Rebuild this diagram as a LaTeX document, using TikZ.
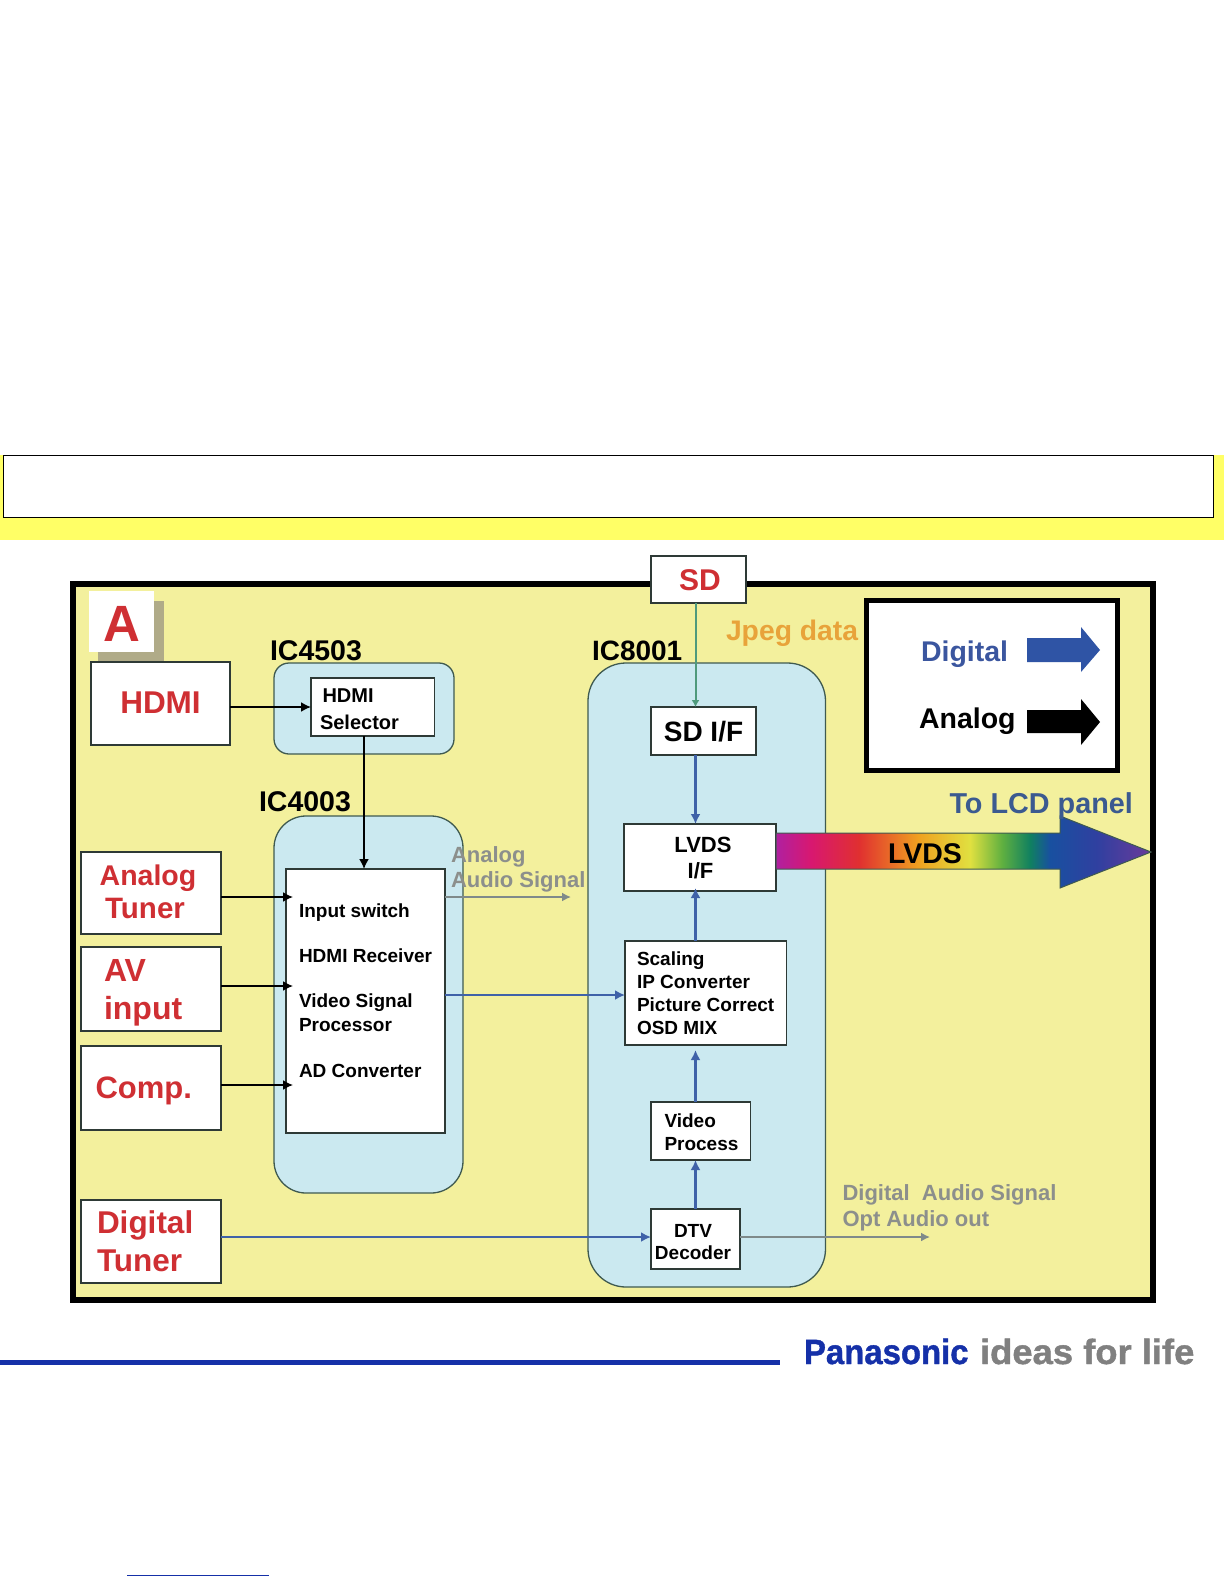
\documentclass[tikz,border=0pt]{standalone}
\usepackage{fontspec}
\setmainfont{Liberation Sans}
\newfontfamily\logofont[FakeBold=1.2]{Liberation Sans Bold}
\usetikzlibrary{arrows.meta}
\definecolor{panelfill}{HTML}{F3F09D}
\definecolor{bandfill}{HTML}{FFFF66}
\definecolor{chipfill}{HTML}{CBE9F0}
\definecolor{chipedge}{HTML}{3F5A50}
\definecolor{boxedge}{HTML}{2E3A36}
\definecolor{labelred}{HTML}{CF2F33}
\definecolor{digblue}{HTML}{3F62A8}
\definecolor{legblue}{HTML}{2F54A5}
\definecolor{txtblue}{HTML}{3B569F}
\definecolor{lcdblue}{HTML}{3B5A90}
\definecolor{audgrey}{HTML}{8C8F8C}
\definecolor{audline}{HTML}{7F8A8A}
\definecolor{sdgreen}{HTML}{4F9A7C}
\definecolor{jpegor}{HTML}{E8A33A}
\definecolor{shadowc}{HTML}{B0AB88}
\definecolor{panablue}{HTML}{1530A8}
\definecolor{lifegrey}{HTML}{808080}
\definecolor{rba}{HTML}{B020A0}
\definecolor{rbb}{HTML}{D81870}
\definecolor{rbc}{HTML}{E03030}
\definecolor{rbd}{HTML}{F0A020}
\definecolor{rbe}{HTML}{E0E040}
\definecolor{rbf}{HTML}{60B040}
\definecolor{rbg}{HTML}{108060}
\definecolor{rbh}{HTML}{1850A0}
\definecolor{rbi}{HTML}{3040A0}
\definecolor{rbj}{HTML}{6A3A9A}
\pgfdeclarehorizontalshading{lvdsrainbow}{100bp}{
  color(0bp)=(rba);
  color(25bp)=(rba);
  color(29.67bp)=(rbb);
  color(36.07bp)=(rbc);
  color(43.93bp)=(rbd);
  color(50.87bp)=(rbe);
  color(55.13bp)=(rbf);
  color(58.87bp)=(rbg);
  color(61.53bp)=(rbh);
  color(67.8bp)=(rbi);
  color(75bp)=(rbj);
  color(100bp)=(rbj)}
\newcommand{\bx}[6]{\node[#2,minimum width={#5-#3},minimum height={#6-#4}] (#1) at ({(#3+#5)/2},{(#4+#6)/2}) {};}
\tikzset{
  x=1pt,y=-1pt,
  fnt/.style n args={2}{font=\fontsize{#1}{#2}\selectfont\bfseries},
  lbl/.style={inner sep=0pt,outer sep=0pt,anchor=base west,align=left},
  clbl/.style={inner sep=0pt,outer sep=0pt,anchor=base,align=center},
  whitebox/.style={draw=boxedge,line width=1.1pt,fill=white,inner sep=0pt,outer sep=0pt},
  chip/.style={draw=chipedge,line width=1.3pt,fill=chipfill,inner sep=0pt,outer sep=0pt},
  analogline/.style={draw=black,line width=1.7pt,-{Latex[length=10pt,width=10pt]}},
  digline/.style={draw=digblue,line width=2.4pt,-{Latex[length=10pt,width=10pt]}},
  audioline/.style={draw=audline,line width=1.7pt,-{Latex[length=9pt,width=9pt]}},
  sdline/.style={draw=sdgreen,line width=2pt,-{Latex[length=7pt,width=8pt]}},
}
\begin{document}
\begin{tikzpicture}
\useasboundingbox (0,0) rectangle (1224,1584);
% top band
\fill[bandfill] (0,455) rectangle (1224,540);
\bx{titlebox}{draw=black,line width=0.9pt,fill=white,inner sep=0pt,outer sep=0pt}{3}{455}{1213}{517}
% panel
\bx{panel}{draw=black,line width=5.5pt,fill=panelfill,inner sep=0pt,outer sep=0pt}{73}{584}{1153}{1300}
% A tag
\fill[shadowc] (98,601) rectangle (164,662);
\bx{atag}{fill=white,inner sep=0pt,outer sep=0pt}{89}{591}{153.5}{652}
\node[clbl,fnt={51}{51},text=labelred] (atxt) at (121.5,641) {A};
% chips
\bx{ic4503}{chip,rounded corners=15pt}{274}{663}{454}{754}
\bx{ic4003}{chip,rounded corners=32pt}{274}{816}{463}{1193}
\bx{ic8001}{chip,rounded corners=38pt}{588}{663}{825.5}{1287}
% boxes
\bx{hdmi}{whitebox}{91}{662}{230}{745}
\bx{sel}{whitebox}{311}{678}{434.5}{736}
\bx{input}{whitebox}{286}{869}{445}{1133}
\bx{atuner}{whitebox}{81}{852}{221}{934}
\bx{av}{whitebox}{81}{947}{221}{1031}
\bx{comp}{whitebox}{81}{1046}{221}{1130}
\bx{dtuner}{whitebox}{81}{1200}{221}{1283}
\bx{sd}{whitebox}{651}{556}{746}{603}
\bx{sdif}{whitebox}{651}{707}{756}{755}
\bx{lvds}{whitebox}{624}{824}{776}{891}
\bx{scale}{whitebox}{625}{941}{786.5}{1045}
\bx{video}{whitebox}{651}{1102}{750.5}{1160}
\bx{dtv}{whitebox}{651}{1209}{740}{1269}
\bx{legend}{draw=black,line width=5pt,fill=white,inner sep=0pt,outer sep=0pt}{866.5}{600.5}{1117.5}{770.5}
% LVDS rainbow arrow
\shade[shading=lvdsrainbow,draw=chipedge,line width=1pt]
  (776,833) -- (1060,833) -- (1060,816) -- (1151,852) -- (1060,888) -- (1060,869) -- (776,869) -- cycle;
% legend arrows
\fill[legblue] (1027,638) -- (1081,638) -- (1081,627) -- (1100,650) -- (1081,672) -- (1081,662) -- (1027,662) -- cycle;
\fill[black] (1027,710) -- (1081,710) -- (1081,699) -- (1100,722) -- (1081,745) -- (1081,733) -- (1027,733) -- cycle;
% connector guide coordinates
\coordinate (xsel) at (364,0);
\coordinate (xmain) at (695.5,0);
\coordinate (inA) at (293,897);
\coordinate (inB) at (293,986);
\coordinate (inC) at (293,1085);
\coordinate (yvid) at (0,995);
\coordinate (ydig) at (0,1237);
\coordinate (audA) at (571,897);
\coordinate (audD) at (930,1237);
\coordinate (tipLvds) at (695.5,888);
\coordinate (tipScale) at (695.5,1050);
% connectors
\draw[analogline] (hdmi.east |- sel.west) -- (sel.west);
\draw[analogline] (sel.south -| xsel) -- (input.north -| xsel);
\draw[analogline] (atuner.east |- inA) -- (inA);
\draw[analogline] (av.east |- inB) -- (inB);
\draw[analogline] (comp.east |- inC) -- (inC);
\draw[digline] (input.east |- yvid) -- (scale.west |- yvid);
\draw[digline] (dtuner.east |- ydig) -- (dtv.west |- ydig);
\draw[audioline] (input.east |- audA) -- (audA);
\draw[audioline] (dtv.east |- audD) -- (audD);
\draw[sdline] (sd.south -| xmain) -- (sdif.north -| xmain);
\draw[digline] (sdif.south -| xmain) -- (lvds.north -| xmain);
\draw[digline] (scale.north -| xmain) -- (tipLvds);
\draw[digline] (video.north -| xmain) -- (tipScale);
\draw[digline] (dtv.north -| xmain) -- (video.south -| xmain);
% texts
\node[clbl,fnt={31.5}{33},text=labelred] (thdmi) at (160.5,713) {HDMI};
\node[lbl,fnt={20}{27}] (tsel) at (320,729) {\hspace*{2.5pt}HDMI\\Selector};
\node[lbl,fnt={28.5}{30}] (t4503) at (270,660) {IC4503};
\node[lbl,fnt={28.5}{30}] (t4003) at (259,811) {IC4003};
\node[lbl,fnt={28}{30}] (t8001) at (592,660) {IC8001};
\node[clbl,fnt={28.5}{33},text=labelred] (tatuner) at (148,918) {Analog\\{\fontsize{29.5}{33}\selectfont Tuner}\hspace*{6pt}};
\node[lbl,fnt={32}{38},text=labelred] (tav) at (104,1019) {AV\\input};
\node[lbl,fnt={31}{30},text=labelred] (tcomp) at (95.5,1098.5) {Comp.};
\node[lbl,fnt={31.5}{38},text=labelred] (tdtuner) at (97,1271) {Digital\\Tuner};
\node[lbl,fnt={19}{23}] (ti1) at (299,917.5) {Input switch};
\node[lbl,fnt={19}{23}] (ti2) at (299,962.5) {HDMI Receiver};
\node[lbl,fnt={19}{23.5}] (ti3) at (299,1031) {Video Signal\\Processor};
\node[lbl,fnt={19}{23}] (ti4) at (299,1077) {AD Converter};
\node[lbl,fnt={22}{25},text=audgrey] (taud) at (451,887) {Analog\\Audio Signal};
\node[clbl,fnt={30}{30},text=labelred] (tsd) at (700,590) {SD};
\node[lbl,fnt={28.3}{30},text=jpegor] (tjpeg) at (726,640) {Jpeg data};
\node[clbl,fnt={28}{30}] (tsdif) at (703.5,741) {SD I/F};
\node[clbl,fnt={22}{26}] (tlvds) at (703,878) {LVDS\\I/F\hspace*{5pt}};
\node[lbl,fnt={19}{22.8}] (tscale) at (637,1034) {Scaling\\IP Converter\\Picture Correct\\OSD MIX};
\node[lbl,fnt={19}{23}] (tvideo) at (664.5,1150.5) {Video\\Process};
\node[clbl,fnt={19}{22}] (tdtv) at (693,1259) {DTV\\Decoder};
\node[lbl,fnt={22}{25.5},text=audgrey] (tdaud) at (842.5,1226) {Digital\ \ Audio Signal\\Opt Audio out};
\node[lbl,fnt={28.5}{30},text=txtblue] (tdig) at (921,661) {Digital};
\node[lbl,fnt={28.5}{30}] (tana) at (919,728) {Analog};
\node[lbl,fnt={28.8}{30},text=lcdblue] (tlcd) at (949.5,813) {To LCD panel};
\node[clbl,fnt={28.5}{30}] (tlv) at (925,863) {LVDS};
% footer
\fill[panablue] (0,1359.5) rectangle (780,1364.5);
\node[lbl,font=\fontsize{35}{35}\logofont,text=panablue] (tpana) at (804,1364) {\scalebox{0.94}[1]{Panasonic}};
\node[lbl,font=\fontsize{35}{35}\logofont,text=lifegrey] (tlife) at (980,1364) {\scalebox{1.04}[1]{ideas for life}};
\draw[panablue,line width=1.2pt] (127,1575.5) -- (269,1575.5);
\end{tikzpicture}
\end{document}
